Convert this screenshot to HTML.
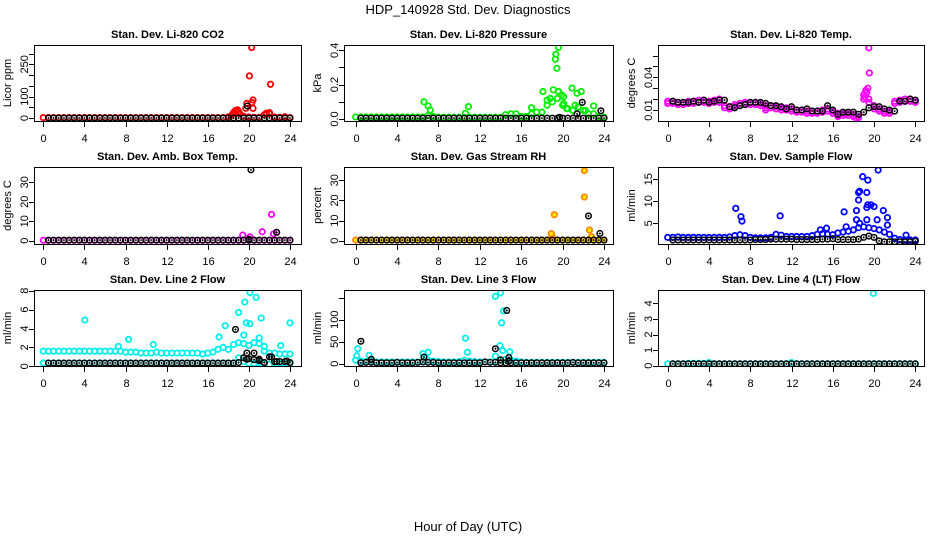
<!DOCTYPE html>
<html><head><meta charset="utf-8"><style>
html,body{margin:0;padding:0;background:#fff;}
svg{display:block;font-family:"Liberation Sans",sans-serif;}
</style></head><body>
<svg id="chart" width="936" height="540" viewBox="0 0 936 540">
<text x="468" y="14" text-anchor="middle" font-size="13">HDP_140928  Std. Dev. Diagnostics</text>
<text x="468" y="531" text-anchor="middle" font-size="13">Hour of Day (UTC)</text>
</svg>
<script>
// shared hours
const hrs = [0,0.5,1,1.5,2,2.5,3,3.5,4,4.5,5,5.5,6,6.5,7,7.5,8,8.5,9,9.5,10,10.5,11,11.5,12,12.5,13,13.5,14,14.5,15,15.5,16,16.5,17,17.5,18,18.5,19,19.5,20,20.5,21,21.5,22,22.5,23,23.5,24];
const bhrs = [0.5,1,1.5,2,2.5,3,3.5,4,4.5,5,5.5,6,6.5,7,7.5,8,8.5,9,9.5,10,10.5,11,11.5,12,12.5,13,13.5,14,14.5,15,15.5,16,16.5,17,17.5,18,18.5,19,19.5,20,20.5,21,21.5,22,22.5,23,23.5,24];
const xTicks = [0,4,8,12,16,20,24];

// CO2
const co2Base = [2,2,2,2,2,2,2,2,2,2,2,2,2,2,2,2,2,2,2,2,2,2,2,2,2,2,2,2,2,2,2,2,2,2,2,2,5,20,30,8,5,3,3,15,20,5,3,2,2];
const co2OutX = [18.3,18.5,18.7,18.9,19.1,19.7,19.8,20.05,20.27,20.3,20.4,20.4,21.7,22.0,22.1,23.5];
const co2OutY = [12,25,35,38,20,45,68,196,328,72,84,45,22,25,157,6];
const co2Black = [0,0,0,0,0,0,0,0,0,0,0,0,0,0,0,0,0,0,0,0,0,0,0,0,0,0,0,0,0,0,0,0,0,0,0,0,0,0,0,0,0,0,0,0,0,0,0,0];
const co2BOutX = [19.85]; const co2BOutY = [56];

// Pressure
const presBase = [0.012,0.012,0.012,0.012,0.012,0.012,0.012,0.012,0.012,0.012,0.012,0.012,0.012,0.012,0.02,0.015,0.01,0.01,0.01,0.01,0.01,0.01,0.01,0.01,0.01,0.01,0.01,0.01,0.01,0.025,0.03,0.03,0.015,0.015,0.03,0.04,0.04,0.08,0.1,0.12,0.08,0.06,0.05,0.07,0.05,0.03,0.03,0.015,0.01];
const presOutX = [6.6,7.0,7.2,10.9,10.6,17.0,19.6,19.35,19.3,19.45,18.1,18.5,19.1,19.6,20.1,20.9,21.4,21.8,20.4,21.2,23.0,22.2,20.1,18.8,19.9];
const presOutY = [0.10,0.076,0.052,0.072,0.033,0.066,0.417,0.377,0.348,0.295,0.16,0.11,0.17,0.16,0.13,0.18,0.15,0.16,0.06,0.08,0.076,0.05,0.09,0.12,0.14];
const presBlack = [0.005,0.005,0.005,0.005,0.005,0.005,0.005,0.005,0.005,0.005,0.005,0.005,0.005,0.005,0.005,0.005,0.005,0.005,0.005,0.005,0.005,0.005,0.005,0.005,0.005,0.005,0.005,0.005,0.005,0.005,0.005,0.005,0.005,0.005,0.005,0.005,0.005,0.005,0.005,0.005,0.005,0.005,0.005,0.005,0.005,0.005,0.005,0.005];
const presBOutX = [21.9,23.7,21.4,19.7]; const presBOutY = [0.097,0.048,0.03,0.01];

// Temp
const tempBase = [0.018,0.018,0.017,0.017,0.018,0.018,0.019,0.019,0.018,0.019,0.02,0.014,0.013,0.015,0.016,0.017,0.017,0.017,0.016,0.014,0.014,0.013,0.012,0.012,0.011,0.01,0.01,0.009,0.009,0.009,0.01,0.011,0.009,0.007,0.007,0.007,0.006,0.004,0.024,0.02,0.014,0.011,0.009,0.009,0.018,0.019,0.02,0.02,0.019];
const tempLo = [0.016,0.016,0.015,0.015,0.016,0.016,0.017,0.017,0.016,0.017,0.017,0.012,0.011,0.013,0.014,0.015,0.015,0.015,0.014,0.012,0.012,0.011,0.01,0.01,0.009,0.008,0.008,0.007,0.007,0.007,0.008,0.009,0.007,0.005,0.005,0.005,0.004,0.003,0.02,0.017,0.011,0.009,0.007,0.007,0.016,0.017,0.018,0.018,0.017];
const tempOutX = [19.5,19.55,19.2,19.3,19.1,16.5,9.5,18.3,19.4];
const tempOutY = [0.067,0.044,0.028,0.026,0.022,0.004,0.01,0.002,0.03];
const tempBlack = [0.018,0.017,0.017,0.017,0.018,0.017,0.019,0.017,0.018,0.019,0.019,0.013,0.012,0.014,0.015,0.017,0.017,0.017,0.016,0.014,0.014,0.013,0.011,0.013,0.01,0.01,0.011,0.009,0.009,0.009,0.014,0.01,0.006,0.008,0.008,0.008,0.006,0.008,0.012,0.013,0.013,0.011,0.01,0.009,0.018,0.018,0.02,0.019];

// Amb box
const ambBase = [0.2,0.2,0.2,0.2,0.2,0.2,0.2,0.2,0.2,0.2,0.2,0.2,0.2,0.2,0.2,0.2,0.2,0.2,0.2,0.2,0.2,0.2,0.2,0.2,0.2,0.2,0.2,0.2,0.2,0.2,0.2,0.2,0.2,0.2,0.2,0.2,0.2,0.2,0.2,0.2,0.2,0.2,0.2,0.2,0.2,0.2,0.2,0.2,0.2];
const ambOutX = [19.4,20.1,21.3,22.2,22.7,22.4];
const ambOutY = [2.9,2,4.6,13.5,4.3,3.5];
const ambBlack = [0.3,0.3,0.3,0.3,0.3,0.3,0.3,0.3,0.3,0.3,0.3,0.3,0.3,0.3,0.3,0.3,0.3,0.3,0.3,0.3,0.3,0.3,0.3,0.3,0.3,0.3,0.3,0.3,0.3,0.3,0.3,0.3,0.3,0.3,0.3,0.3,0.3,0.3,0.3,0.3,0.3,0.3,0.3,0.3,0.3,0.3,0.3,0.3];
const ambBOutX = [20.2,22.7,20.0]; const ambBOutY = [36.4,4.3,0.8];

// RH
const rhBase = [0.3,0.3,0.3,0.3,0.3,0.3,0.3,0.3,0.3,0.3,0.3,0.3,0.3,0.3,0.3,0.3,0.3,0.3,0.3,0.3,0.3,0.3,0.3,0.3,0.3,0.3,0.3,0.3,0.3,0.3,0.3,0.3,0.3,0.3,0.3,0.3,0.3,0.3,0.3,0.3,0.3,0.3,0.3,0.3,0.3,0.3,0.3,0.3,0.3];
const rhOutX = [22.1,22.1,19.2,19.0,22.6,22.8,18.9];
const rhOutY = [34.8,21.7,12.9,2.3,5.3,2,3.5];
const rhBlack = [0.3,0.3,0.3,0.3,0.3,0.3,0.3,0.3,0.3,0.3,0.3,0.3,0.3,0.3,0.3,0.3,0.3,0.3,0.3,0.3,0.3,0.3,0.3,0.3,0.3,0.3,0.3,0.3,0.3,0.3,0.3,0.3,0.3,0.3,0.3,0.3,0.3,0.3,0.3,0.3,0.3,0.3,0.3,0.3,0.3,0.3,0.3,0.3];
const rhBOutX = [22.5,23.6]; const rhBOutY = [12.3,3.6];

// Sample flow
const flowBase = [1.8,1.8,1.9,1.8,1.8,1.8,1.8,1.8,1.8,1.8,1.8,1.8,1.9,2.2,2.4,2.2,1.8,1.7,1.7,1.7,1.8,2.5,2.3,2,2,2,2,2,2.2,2.5,2.6,2.5,2.4,2.8,3,3.2,3.5,4,4.2,4,3.8,3.5,3,2.5,1.6,1.3,1.2,1.2,1.2];
const flowOutX = [6.6,7.1,7.2,10.9,14.8,15.4,17.1,18.3,18.5,18.6,18.5,18.9,19.4,19.3,19.4,19.3,19.7,20.0,20.4,20.3,19.3,20.9,21.3,21.3,23.1,18.3,17.3,18.6];
const flowOutY = [8.4,6.5,5.5,6.7,3.5,3.9,7.6,7.9,12,12.3,10.3,15.6,14.8,12,9.2,8.6,9.2,8.8,17.1,5.8,5.8,7.9,6.3,4.6,2.3,5.8,4.2,5];
const flowBlack = [1.2,1.2,1.2,1.2,1.2,1.2,1.2,1.2,1.2,1.2,1.2,1.2,1.2,1.2,1.2,1.2,1.3,1.3,1.3,1.4,1.4,1.4,1.4,1.4,1.3,1.3,1.3,1.3,1.3,1.4,1.4,1.5,1.3,1.3,1.3,1.3,1.4,1.8,2.1,1.8,1,0.8,0.8,0.8,0.8,0.8,0.8,0.9];

// Line 2 flow
const l2Base = [1.6,1.6,1.6,1.6,1.6,1.6,1.6,1.6,1.6,1.6,1.6,1.6,1.6,1.6,1.6,1.6,1.5,1.5,1.5,1.4,1.4,1.4,1.5,1.4,1.4,1.4,1.4,1.4,1.4,1.4,1.4,1.3,1.4,1.5,1.8,2,1.8,2.3,2.5,2.4,2.2,2.5,2.4,1.6,1.4,1.4,1.3,1.3,1.3];
const l2Low = [0.35,0.35,0.35,0.35,0.35,0.35,0.35,0.35,0.35,0.35,0.35,0.35,0.35,0.35,0.35,0.35,0.35,0.35,0.35,0.35,0.35,0.35,0.35,0.35,0.35,0.35,0.35,0.35,0.35,0.35,0.35,0.35,0.35,0.35,0.35,0.35,0.35,0.35,0.9,0.5,0.3,0.3,0.4,0.3,0.2,0.3,0.3,0.3,0.3];
const l2OutX = [4.05,8.3,7.3,10.7,17.1,17.7,19.0,19.6,20.1,20.7,19.75,20.1,21.2,21.0,19.5,24,23.1,21.5];
const l2OutY = [4.9,2.85,2.1,2.3,3.1,4.3,5.7,6.8,7.8,7.3,4.6,4.5,5.1,3.0,3.3,4.6,2.2,2.1];
const l2Black = [0.35,0.35,0.35,0.35,0.35,0.35,0.35,0.35,0.35,0.35,0.35,0.35,0.35,0.35,0.35,0.35,0.35,0.35,0.35,0.35,0.35,0.35,0.35,0.35,0.35,0.35,0.35,0.35,0.35,0.35,0.35,0.35,0.35,0.35,0.35,0.35,0.35,0.4,0.9,0.8,0.7,0.6,0.4,1.0,0.5,0.5,0.5,0.4];
const l2BOutX = [18.7,19.8,19.8,20.5,21,21.5,22.2,22.7,23.7];
const l2BOutY = [3.9,1.4,0.75,1.4,0.75,0.4,1.0,0.5,0.55];

// Line 3 flow
const l3Base = [8,6,5,5,4,4,4,4,4,4,4,4,4,5,8,6,5,4,4,4,5,8,6,5,4,4,4,5,8,10,8,6,4,3,3,3,3,3,3,3,3,3,3,3,3,3,3,3,3];
const l3OutX = [0.2,0.1,1.3,13.5,14.0,14.3,14.1,13.95,14.2,10.6,10.8,7.0,6.5,14.9,13.5];
const l3OutY = [34,18,19,153,161,120,93,41,30,58,26,26,23,27,17];
const l3Black = [2,3,3,2,2,2,2,3,2,2,2,3,4,3,3,2,2,2,2,2,2,2,2,2,4,3,3,2,2,2,2,2,2,2,2,2,2,2,2,2,2,3,2,2,2,2,2,2];
const l3BOutX = [0.5,13.5,14.6,6.6,1.5,14.0,14.8,14.8];
const l3BOutY = [51,34,121,15,10,9,14,6];

// Line 4 flow
const l4Base = [0.12,0.12,0.12,0.12,0.15,0.15,0.15,0.15,0.2,0.12,0.12,0.12,0.12,0.12,0.12,0.12,0.12,0.12,0.12,0.12,0.12,0.12,0.12,0.12,0.2,0.12,0.12,0.12,0.12,0.12,0.12,0.12,0.12,0.12,0.12,0.12,0.12,0.12,0.12,0.12,0.12,0.12,0.12,0.12,0.12,0.12,0.12,0.12,0.12];
const l4OutX = [19.93]; const l4OutY = [4.64];
const l4Black = [0.12,0.12,0.12,0.12,0.12,0.12,0.12,0.12,0.12,0.12,0.12,0.12,0.12,0.12,0.12,0.12,0.12,0.12,0.12,0.12,0.12,0.12,0.12,0.12,0.12,0.12,0.12,0.12,0.12,0.12,0.12,0.12,0.12,0.12,0.12,0.12,0.12,0.12,0.12,0.12,0.12,0.12,0.12,0.12,0.12,0.12,0.12,0.12];

const NS = "http://www.w3.org/2000/svg";
const svg = document.getElementById("chart");
function mk(tag, attrs, parent){
  const e = document.createElementNS(NS, tag);
  for (const k in attrs) e.setAttribute(k, attrs[k]);
  (parent||svg).appendChild(e); return e;
}
const cols = [{l:34,r:301,x0:43.3,x24:290},{l:344,r:613,x0:355.7,x24:604},{l:658,r:924,x0:667.7,x24:915.3}];
const rows = [{t:45,b:121},{t:167,b:244},{t:290,b:366}];

const panels = [
 {key:"co2",title:"Stan. Dev. Li-820 CO2",ylab:"Licor ppm",c:0,r:0,va:0,pa:118,vb:250,pb:64.3,ticks:[0,50,100,150,200,250,300],labels:[0,100,250],fmt:v=>String(v),color:"#ff0000",
  series:[[hrs,co2Base,0],[co2OutX,co2OutY,0],[bhrs,co2Black,1],[co2BOutX,co2BOutY,1]]},
 {key:"pressure",title:"Stan. Dev. Li-820 Pressure",ylab:"kPa",c:1,r:0,va:0,pa:119,vb:0.4,pb:50.3,ticks:[0,0.1,0.2,0.3,0.4],labels:[0,0.2,0.4],fmt:v=>v.toFixed(1),color:"#00ee00",
  series:[[hrs,presBase,0],[presOutX,presOutY,0],[bhrs,presBlack,1],[presBOutX,presBOutY,1]]},
 {key:"temp",title:"Stan. Dev. Li-820 Temp.",ylab:"degrees C",c:2,r:0,va:0.01,pa:110,vb:0.04,pb:77.3,ticks:[0.01,0.02,0.03,0.04,0.05,0.06],labels:[0.01,0.04],fmt:v=>v.toFixed(2),color:"#ff00ff",
  series:[[hrs,tempBase,0],[hrs,tempLo,0],[tempOutX,tempOutY,0],[bhrs,tempBlack,1]]},
 {key:"ambbox",title:"Stan. Dev. Amb. Box Temp.",ylab:"degrees C",c:0,r:1,va:0,pa:240.7,vb:30,pb:182.3,ticks:[0,10,20,30],labels:[0,10,20,30],fmt:v=>String(v),color:"#ff00ff",
  series:[[hrs,ambBase,0],[ambOutX,ambOutY,0],[bhrs,ambBlack,1],[ambBOutX,ambBOutY,1]]},
 {key:"rh",title:"Stan. Dev. Gas Stream RH",ylab:"percent",c:1,r:1,va:0,pa:240.7,vb:30,pb:180.3,ticks:[0,10,20,30],labels:[0,10,20,30],fmt:v=>String(v),color:"#ff8800",fill:"#ffee00",
  series:[[hrs,rhBase,0],[rhOutX,rhOutY,0],[bhrs,rhBlack,1],[rhBOutX,rhBOutY,1]]},
 {key:"sampleflow",title:"Stan. Dev. Sample Flow",ylab:"ml/min",c:2,r:1,va:5,pa:223.3,vb:15,pb:179.3,ticks:[5,10,15],labels:[5,10,15],fmt:v=>String(v),color:"#0000ff",
  series:[[hrs,flowBase,0],[flowOutX,flowOutY,0],[bhrs,flowBlack,1]]},
 {key:"line2",title:"Stan. Dev. Line 2 Flow",ylab:"ml/min",c:0,r:2,va:0,pa:366.3,vb:8,pb:290.7,ticks:[0,2,4,6,8],labels:[0,2,4,6,8],fmt:v=>String(v),color:"#00eeee",
  series:[[hrs,l2Base,0],[hrs,l2Low,0],[l2OutX,l2OutY,0],[bhrs,l2Black,1],[l2BOutX,l2BOutY,1]]},
 {key:"line3",title:"Stan. Dev. Line 3 Flow",ylab:"ml/min",c:1,r:2,va:0,pa:363.7,vb:100,pb:319.7,ticks:[0,50,100,150],labels:[0,50,100],fmt:v=>String(v),color:"#00eeee",
  series:[[hrs,l3Base,0],[l3OutX,l3OutY,0],[bhrs,l3Black,1],[l3BOutX,l3BOutY,1]]},
 {key:"line4",title:"Stan. Dev. Line 4 (LT) Flow",ylab:"ml/min",c:2,r:2,va:0,pa:365.7,vb:4,pb:303.3,ticks:[0,1,2,3,4],labels:[0,1,2,3,4],fmt:v=>String(v),color:"#00eeee",
  series:[[hrs,l4Base,0],[l4OutX,l4OutY,0],[bhrs,l4Black,1]]}
];

panels.forEach(p=>{
  const C = cols[p.c], R = rows[p.r];
  const g = mk("g",{});
  
  
  const xs = h => C.x0 + (C.x24 - C.x0) * h / 24;
  const ys = v => p.pa + (p.pb - p.pa) * (v - p.va) / (p.vb - p.va);
  const t = mk("text",{x:(C.l+C.r)/2,y:R.t-7,"text-anchor":"middle","font-size":"11","font-weight":"bold"},g);
  t.textContent = p.title;
  
  
  const clip = mk("clipPath",{id:"clip-"+p.key},g);
  mk("rect",{x:C.l,y:R.t,width:C.r-C.l,height:R.b-R.t},clip);
  const pts = mk("g",{"clip-path":"url(#clip-"+p.key+")"},g);
  
  
  p.series.forEach(s=>{
    const X = s[0], Y = s[1], black = s[2];
    for (let i=0;i<Y.length && i<X.length;i++){
      const cx = xs(X[i]), cy = ys(Y[i]);
      const c = mk("circle",{cx:cx,cy:cy,r:black?2.8:2.7,fill:black?"none":(p.fill||"none"),stroke:black?"#000":p.color,"stroke-width":black?1.5:1.8},pts);
      
      
      if (black){
        mk("path",{d:`M${cx-1.2},${cy}h2.4M${cx},${cy-1.2}v2.4`,stroke:"#000","stroke-width":0.8},pts);
      }
    }
  });
  const box = mk("rect",{x:C.l+0.5,y:R.t+0.5,width:C.r-C.l,height:R.b-R.t,fill:"none",stroke:"#000","stroke-width":1},g);
  
  
  const xa = mk("g",{},g);
  
  
  xTicks.forEach(h=>{
    const x = Math.round(xs(h))+0.5;
    mk("line",{x1:x,x2:x,y1:R.b,y2:R.b+6,stroke:"#000"},xa);
    const tl = mk("text",{x:x,y:R.b+21,"text-anchor":"middle","font-size":"11"},xa);
    tl.textContent = h;
  });
  const ya = mk("g",{},g);
  
  
  p.ticks.forEach(v=>{
    const y = Math.round(ys(v))+0.5;
    mk("line",{x1:C.l-5,x2:C.l,y1:y,y2:y,stroke:"#000"},ya);
  });
  p.labels.forEach(v=>{
    const y = ys(v);
    const tl = mk("text",{transform:`translate(${C.l-6},${y}) rotate(-90)`,"text-anchor":"middle","font-size":"11"},ya);
    tl.textContent = p.fmt(v);
  });
  const yl = mk("text",{transform:`translate(${C.l-23},${(R.t+R.b)/2}) rotate(-90)`,"text-anchor":"middle","font-size":"11"},g);
  yl.textContent = p.ylab;
  
  
});
</script>
</body></html>
